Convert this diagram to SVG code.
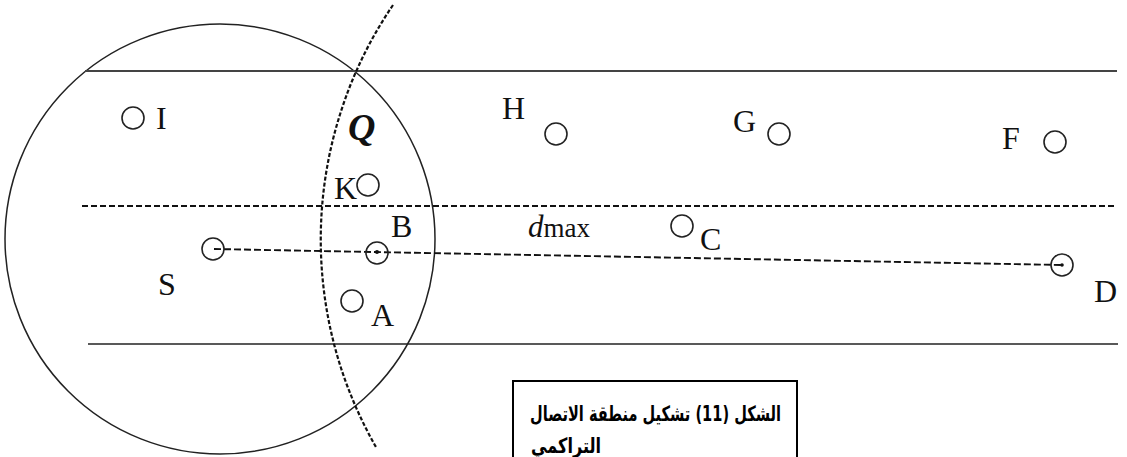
<svg xmlns="http://www.w3.org/2000/svg" width="1127" height="457" viewBox="0 0 1127 457">
<style>
.ln{stroke:#222;stroke-width:1.5;fill:none}
.dash{stroke:#111;stroke-width:2;fill:none;stroke-dasharray:6 3}
.node{stroke:#222;stroke-width:1.6;fill:none}
.dot{fill:#111}
.lbl{font-family:"Liberation Serif","Times New Roman",serif;font-size:32px;fill:#111}
.cap{font-family:"DejaVu Sans","Noto Sans",sans-serif;font-weight:bold;font-size:21px;fill:#000}
</style>
<rect width="1127" height="457" fill="#fff"/>
<g id="background">
<circle class="ln" cx="220" cy="239" r="215"/>
<line class="ln" x1="85" y1="71" x2="1117" y2="71" style="stroke:#444;stroke-width:2"/>
<line class="ln" x1="88" y1="344" x2="1118" y2="344"/>
<line class="dash" x1="82" y1="206" x2="1116" y2="206"/>
<path d="M 393 5 A 417 417 0 0 0 376 447" stroke="#111" stroke-width="2.2" fill="none" stroke-dasharray="4 2"/>
<text class="lbl" x="348" y="140" style="font-weight:bold;font-style:italic;font-size:38px">Q</text>
<text class="lbl" x="528" y="237"><tspan style="font-style:italic;font-size:31px">d</tspan><tspan style="font-size:27px">max</tspan></text>
</g>
<g id="connectors">
<line x1="214" y1="249" x2="1062" y2="265" stroke="#111" stroke-width="1.9" stroke-dasharray="7 3"/>
</g>
<g id="node-S"><circle class="node" cx="213" cy="249" r="11"/><text class="lbl" x="158" y="295">S</text></g>
<g id="node-I"><circle class="node" cx="133" cy="118" r="11"/><text class="lbl" x="156" y="129">I</text></g>
<g id="node-K"><circle class="node" cx="368" cy="185" r="11"/><text class="lbl" x="334" y="199">K</text></g>
<g id="node-B"><circle class="node" cx="377" cy="253" r="11"/><circle class="dot" cx="377" cy="252" r="2"/><text class="lbl" x="391" y="237">B</text></g>
<g id="node-A"><circle class="node" cx="352" cy="301" r="11"/><text class="lbl" x="371" y="326">A</text></g>
<g id="node-H"><circle class="node" cx="556" cy="134" r="11"/><text class="lbl" x="502" y="119">H</text></g>
<g id="node-G"><circle class="node" cx="779" cy="134" r="11"/><text class="lbl" x="733" y="132">G</text></g>
<g id="node-F"><circle class="node" cx="1055" cy="142" r="11"/><text class="lbl" x="1002" y="149">F</text></g>
<g id="node-C"><circle class="node" cx="682" cy="226" r="11"/><text class="lbl" x="700" y="250">C</text></g>
<g id="node-D"><circle class="node" cx="1062" cy="265" r="11"/><circle class="dot" cx="1062" cy="265" r="1.8"/><text class="lbl" x="1094" y="302">D</text></g>
<g id="caption">
<rect x="513" y="381" width="284" height="90" fill="#fff" stroke="#000" stroke-width="2"/>
<text class="cap" x="781" y="421" direction="rtl" text-anchor="start" textLength="251" lengthAdjust="spacingAndGlyphs">الشكل (11) تشكيل منطقة الاتصال</text>
<text class="cap" x="531" y="453" direction="rtl" text-anchor="end" textLength="70" lengthAdjust="spacingAndGlyphs">التراكمي</text>
</g>
</svg>
